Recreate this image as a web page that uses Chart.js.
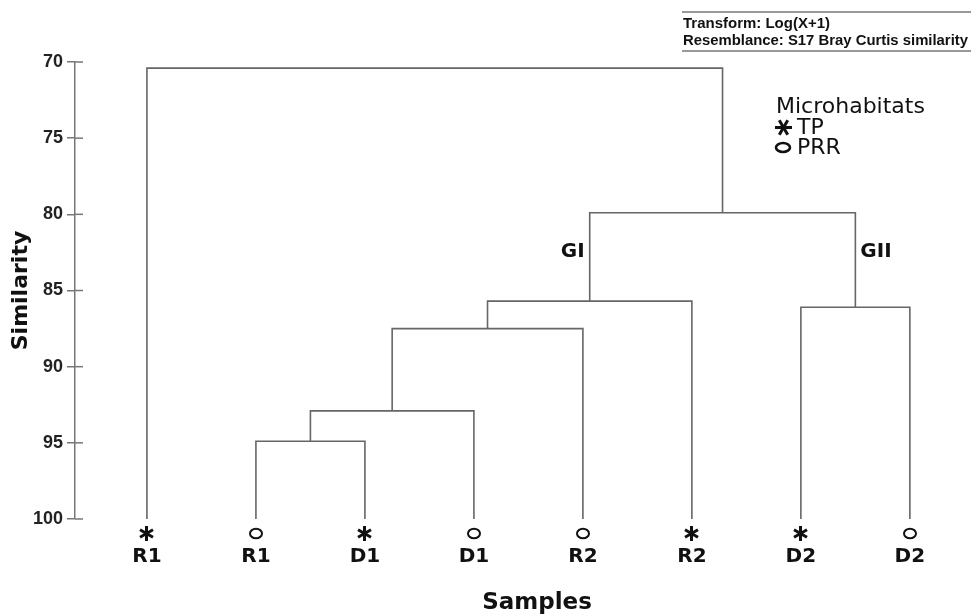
<!DOCTYPE html>
<html>
<head>
<meta charset="utf-8">
<script src="https://cdn.jsdelivr.net/npm/chart.js@4.4.1/dist/chart.umd.min.js"></script>
<style>
    html, body { margin: 0; padding: 0; background: #fff; }
</style>
</head>
<body>
<canvas id="dendro" width="971" height="614"></canvas>
<script>
// leaves, left to right
const leafNames = ['R1', 'R1', 'D1', 'D1', 'R2', 'R2', 'D2', 'D2'];
const leafTypes = ['TP', 'PRR', 'TP', 'PRR', 'PRR', 'TP', 'TP', 'PRR'];

// merges: nodes 0-7 are leaves, merge k becomes node 8+k
const mergeLeft  = [1, 8, 9, 10, 6, 11, 0];
const mergeRight = [2, 3, 4, 5, 7, 12, 13];
const mergeLevel = [94.9, 92.9, 87.5, 85.7, 86.1, 79.9, 70.4];

const yTicks = [70, 75, 80, 85, 90, 95, 100];
const groupNames = ['GI', 'GII'];
const groupNodes = [11, 12];

const LINE = '#666';
const AXIS = '#777';

// node positions from the merge table
const nodeX = leafNames.map((_, i) => i);
const nodeY = leafNames.map(() => 100);
mergeLeft.forEach((l, k) => {
    const r = mergeRight[k];
    nodeX.push((nodeX[l] + nodeX[r]) / 2);
    nodeY.push(mergeLevel[k]);
});

const branchSets = mergeLeft.map((l, k) => {
    const r = mergeRight[k], h = mergeLevel[k];
    return {
        type: 'scatter', showLine: true,
        data: [{ x: nodeX[l], y: nodeY[l] }, { x: nodeX[l], y: h }, { x: nodeX[r], y: h }, { x: nodeX[r], y: nodeY[r] }],
        borderColor: LINE, borderWidth: 1.6, pointRadius: 0, tension: 0
    };
});

// marker glyphs
function makeStar(r, rot) {
    const c = document.createElement('canvas');
    c.width = c.height = 2 * r + 6;
    const g = c.getContext('2d');
    g.translate(c.width / 2, c.height / 2);
    g.strokeStyle = '#111'; g.lineWidth = 3; g.lineCap = 'butt';
    for (let a = 0; a < 3; a++) {
        const t = rot + a * Math.PI / 3;
        g.beginPath();
        g.moveTo(-r * Math.cos(t), -r * Math.sin(t));
        g.lineTo(r * Math.cos(t), r * Math.sin(t));
        g.stroke();
    }
    return c;
}
function makeRing(rx, ry, w) {
    const c = document.createElement('canvas');
    c.width = 2 * rx + 6; c.height = 2 * ry + 6;
    const g = c.getContext('2d');
    g.strokeStyle = '#111'; g.lineWidth = w;
    g.beginPath();
    g.ellipse(c.width / 2, c.height / 2, rx, ry, 0, 0, Math.PI * 2);
    g.stroke();
    return c;
}
const leafStar = makeStar(7.5, Math.PI / 2);
const leafRing = makeRing(6, 4.8, 2);
const legStar = makeStar(8.5, 0);
const legRing = makeRing(7, 4.5, 2.6);

function stamp(ctx, img, cx, cy) {
    ctx.drawImage(img, Math.round(cx - img.width / 2), Math.round(cy - img.height / 2));
}

const extras = {
    id: 'extras',
    afterDraw(chart) {
        const { ctx, scales: { x, y } } = chart;
        ctx.save();
        // inner half of the y tick marks
        ctx.strokeStyle = AXIS; ctx.lineWidth = 1.5;
        yTicks.forEach(v => {
            const py = y.getPixelForValue(v);
            ctx.beginPath(); ctx.moveTo(x.left, py); ctx.lineTo(x.left + 8, py); ctx.stroke();
        });

        // leaf markers just under the baseline
        leafTypes.forEach((t, i) => {
            stamp(ctx, t === 'TP' ? leafStar : leafRing, x.getPixelForValue(i), y.bottom + 14);
        });

        ctx.fillStyle = '#111';
        ctx.textBaseline = 'middle';
        ctx.font = 'bold 20px "DejaVu Sans"';
        groupNames.forEach((g, i) => {
            const px = x.getPixelForValue(nodeX[groupNodes[i]]);
            ctx.textAlign = i === 0 ? 'right' : 'left';
            ctx.fillText(g, px + (i === 0 ? -5 : 5), y.getPixelForValue(82.45));
        });

        ctx.textBaseline = 'alphabetic';
        ctx.textAlign = 'center';
        ctx.font = 'bold 23px "DejaVu Sans"';
        ctx.fillText('Samples', 537, 609);

        // legend
        ctx.textAlign = 'left';
        ctx.font = '22px "DejaVu Sans"';
        ctx.fillText('Microhabitats', 776, 113);
        ctx.fillText('TP', 797, 134);
        ctx.fillText('PRR', 797, 154);
        stamp(ctx, legStar, 783, 127);
        stamp(ctx, legRing, 783, 147);

        // transform note
        ctx.strokeStyle = AXIS; ctx.lineWidth = 1.5;
        [12, 51].forEach(ly => {
            ctx.beginPath(); ctx.moveTo(682, ly); ctx.lineTo(971, ly); ctx.stroke();
        });
        ctx.font = 'bold 15px "Liberation Sans"';
        ctx.fillText('Transform: Log(X+1)', 683, 28, 147);
        ctx.fillText('Resemblance: S17 Bray Curtis similarity', 683, 45, 285);
        ctx.restore();
    }
};

new Chart(document.getElementById('dendro').getContext('2d'), {
    data: { datasets: branchSets },
    options: {
        responsive: false, animation: false,
        layout: { padding: { left: 0, right: 11, top: 62, bottom: 0 } },
        plugins: { legend: { display: false }, tooltip: { enabled: false } },
        scales: {
            x: {
                type: 'linear', min: -0.66, max: 7.46,
                afterBuildTicks: s => { s.ticks = leafNames.map((_, i) => ({ value: i })); },
                afterFit: s => { s.height = 95; },
                ticks: {
                    callback: v => leafNames[v], autoSkip: false, maxRotation: 0,
                    color: '#111', padding: 26, font: { family: 'DejaVu Sans', size: 20, weight: 'bold' }
                },
                grid: { display: false, drawTicks: false, tickLength: 0 },
                border: { display: false }
            },
            y: {
                min: 70, max: 100, reverse: true,
                afterBuildTicks: s => { s.ticks = yTicks.map(v => ({ value: v })); },
                afterFit: s => { s.width = 75; },
                ticks: { color: '#222', padding: 4, font: { family: 'Liberation Sans', size: 18, weight: 'bold' } },
                grid: { drawOnChartArea: false, tickLength: 8, color: AXIS, lineWidth: 1.5 },
                border: { color: AXIS, width: 1.5 },
                title: {
                    display: true, text: 'Similarity', color: '#111', padding: { top: 8, bottom: 0 },
                    font: { family: 'DejaVu Sans', size: 22, weight: 'bold' }
                }
            }
        }
    },
    plugins: [extras]
});
</script>
</body>
</html>
